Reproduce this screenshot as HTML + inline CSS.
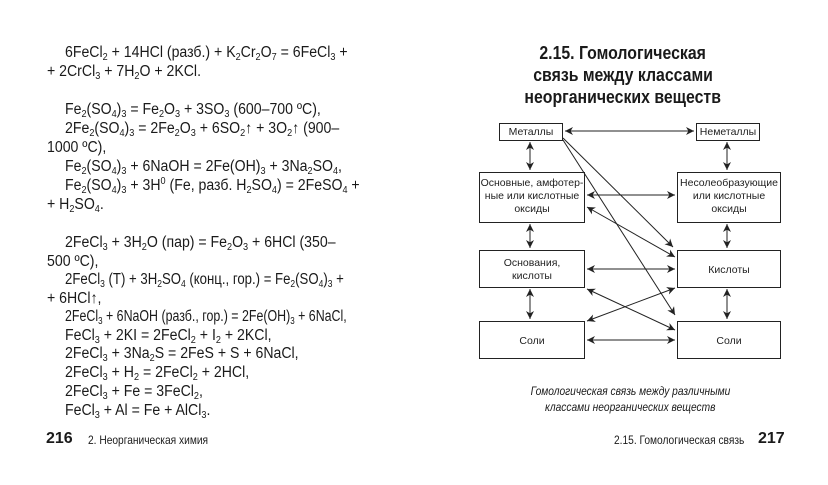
<!DOCTYPE html>
<html><head><meta charset="utf-8"><style>
body{margin:0;width:828px;height:485px;background:#fff;position:relative;overflow:hidden;font-family:"Liberation Sans",sans-serif;color:#1a1a1a}
.l{position:absolute;font-size:15.5px;line-height:19px;white-space:nowrap;transform:scaleX(0.91);transform-origin:0 50%}
sub{font-size:10px;vertical-align:-3px;line-height:0}
sup{font-size:10px;vertical-align:6px;line-height:0}
.t{position:absolute;left:470px;width:306px;text-align:center;font-weight:bold;font-size:18px;line-height:22px}
.t span{display:inline-block;transform:scaleX(0.88)}
.cap{position:absolute;left:480px;width:300px;text-align:center;font-style:italic;font-size:12px;line-height:16px}
.cap span{display:inline-block;transform:scaleX(0.85)}
.f{position:absolute;font-size:12px;transform:scaleX(0.85);transform-origin:0 50%;white-space:nowrap}
.pn{position:absolute;font-size:16px;font-weight:bold}
</style></head><body>
<div class="l" style="left:65px;top:43px">6FeCl<sub>2</sub> + 14HCl (разб.) + K<sub>2</sub>Cr<sub>2</sub>O<sub>7</sub> = 6FeCl<sub>3</sub> +</div>
<div class="l" style="left:47px;top:62px">+ 2CrCl<sub>3</sub> + 7H<sub>2</sub>O + 2KCl.</div>
<div class="l" style="left:65px;top:100px">Fe<sub>2</sub>(SO<sub>4</sub>)<sub>3</sub> = Fe<sub>2</sub>O<sub>3</sub> + 3SO<sub>3</sub> (600–700 ºC),</div>
<div class="l" style="left:65px;top:119px">2Fe<sub>2</sub>(SO<sub>4</sub>)<sub>3</sub> = 2Fe<sub>2</sub>O<sub>3</sub> + 6SO<sub>2</sub>↑ + 3O<sub>2</sub>↑ (900–</div>
<div class="l" style="left:47px;top:138px">1000 ºC),</div>
<div class="l" style="left:65px;top:157px">Fe<sub>2</sub>(SO<sub>4</sub>)<sub>3</sub> + 6NaOH = 2Fe(OH)<sub>3</sub> + 3Na<sub>2</sub>SO<sub>4</sub>,</div>
<div class="l" style="left:65px;top:176px">Fe<sub>2</sub>(SO<sub>4</sub>)<sub>3</sub> + 3H<sup>0</sup> (Fe, разб. H<sub>2</sub>SO<sub>4</sub>) = 2FeSO<sub>4</sub> +</div>
<div class="l" style="left:47px;top:195px">+ H<sub>2</sub>SO<sub>4</sub>.</div>
<div class="l" style="left:65px;top:233px">2FeCl<sub>3</sub> + 3H<sub>2</sub>O (пар) = Fe<sub>2</sub>O<sub>3</sub> + 6HCl (350–</div>
<div class="l" style="left:47px;top:252px">500 ºC),</div>
<div class="l" style="left:65px;top:270px;transform:scaleX(0.85)">2FeCl<sub>3</sub> (T) + 3H<sub>2</sub>SO<sub>4</sub> (конц., гор.) = Fe<sub>2</sub>(SO<sub>4</sub>)<sub>3</sub> +</div>
<div class="l" style="left:47px;top:289px">+ 6HCl↑,</div>
<div class="l" style="left:65px;top:307px;transform:scaleX(0.8)">2FeCl<sub>3</sub> + 6NaOH (разб., гор.) = 2Fe(OH)<sub>3</sub> + 6NaCl,</div>
<div class="l" style="left:65px;top:326px">FeCl<sub>3</sub> + 2KI = 2FeCl<sub>2</sub> + I<sub>2</sub> + 2KCl,</div>
<div class="l" style="left:65px;top:344px">2FeCl<sub>3</sub> + 3Na<sub>2</sub>S = 2FeS + S + 6NaCl,</div>
<div class="l" style="left:65px;top:363px">2FeCl<sub>3</sub> + H<sub>2</sub> = 2FeCl<sub>2</sub> + 2HCl,</div>
<div class="l" style="left:65px;top:382px">2FeCl<sub>3</sub> + Fe = 3FeCl<sub>2</sub>,</div>
<div class="l" style="left:65px;top:401px">FeCl<sub>3</sub> + Al = Fe + AlCl<sub>3</sub>.</div>
<div class="pn" style="left:46px;top:430px">216</div>
<div class="f" style="left:88px;top:433px">2. Неорганическая химия</div>
<div class="f" style="left:614px;top:433px">2.15. Гомологическая связь</div>
<div class="pn" style="left:758px;top:430px">217</div>

<div class="t" style="top:42px"><span>2.15. Гомологическая</span></div>
<div class="t" style="top:64px"><span>связь между классами</span></div>
<div class="t" style="top:86px"><span>неорганических веществ</span></div>

<svg style="position:absolute;left:0;top:0" width="828" height="485">
<defs><marker id="a" viewBox="0 0 10 10" refX="10" refY="5" markerWidth="11" markerHeight="8" orient="auto-start-reverse" markerUnits="userSpaceOnUse"><path d="M0,0 L10,5 L0,10 L3,5z" fill="#222"/></marker></defs>
<g fill="#fff" stroke="#222" stroke-width="1">
<rect x="499.5" y="123.5" width="63" height="17"/>
<rect x="696.5" y="123.5" width="63" height="17"/>
<rect x="479.5" y="172.5" width="105" height="50"/>
<rect x="677.5" y="172.5" width="103" height="50"/>
<rect x="479.5" y="250.5" width="105" height="37"/>
<rect x="677.5" y="250.5" width="103" height="37"/>
<rect x="479.5" y="321.5" width="105" height="37"/>
<rect x="677.5" y="321.5" width="103" height="37"/>
</g>
<g stroke="#222" stroke-width="1" fill="none" marker-end="url(#a)" marker-start="url(#a)">
<line x1="565" y1="131" x2="694" y2="131"/>
<line x1="530" y1="142" x2="530" y2="170"/>
<line x1="530" y1="224" x2="530" y2="248"/>
<line x1="530" y1="289" x2="530" y2="319"/>
<line x1="727" y1="142" x2="727" y2="170"/>
<line x1="727" y1="224" x2="727" y2="248"/>
<line x1="727" y1="289" x2="727" y2="319"/>
<line x1="587" y1="195" x2="675" y2="195"/>
<line x1="587" y1="269" x2="675" y2="269"/>
<line x1="587" y1="340" x2="675" y2="340"/>
<line x1="587" y1="207" x2="675" y2="257"/>
<line x1="587" y1="289" x2="675" y2="330"/>
<line x1="675" y1="288" x2="587" y2="321"/>
</g>
<g stroke="#222" stroke-width="1" fill="none" marker-end="url(#a)">
<line x1="563" y1="138" x2="673" y2="247"/>
<line x1="563" y1="140" x2="675" y2="315"/>
</g>
<g font-family="Liberation Sans,sans-serif" font-size="10.5" fill="#222" text-anchor="middle">
<text x="531" y="135">Металлы</text>
<text x="728" y="135">Неметаллы</text>
<text x="532" y="186">Основные, амфотер-</text>
<text x="532" y="199">ные или кислотные</text>
<text x="532" y="212">оксиды</text>
<text x="729" y="186">Несолеобразующие</text>
<text x="729" y="199">или кислотные</text>
<text x="729" y="212">оксиды</text>
<text x="532" y="266">Основания,</text>
<text x="532" y="279">кислоты</text>
<text x="729" y="273">Кислоты</text>
<text x="532" y="344">Соли</text>
<text x="729" y="344">Соли</text>
</g>
</svg>
<div class="cap" style="top:383px"><span>Гомологическая связь между различными</span></div>
<div class="cap" style="top:399px"><span>классами неорганических веществ</span></div>
</body></html>
